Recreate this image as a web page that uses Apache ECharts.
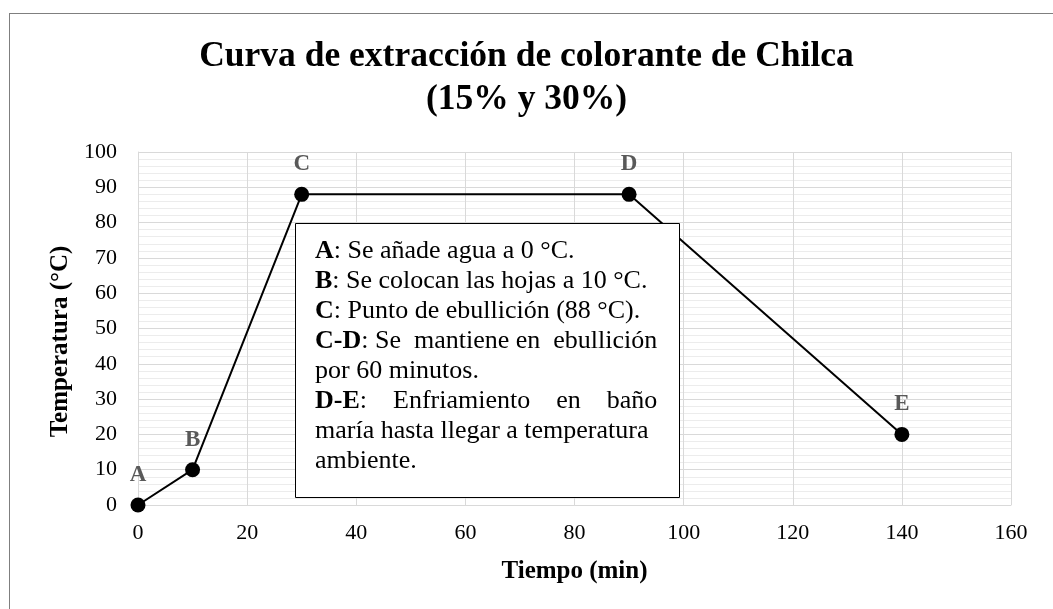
<!DOCTYPE html>
<html>
<head>
<meta charset="utf-8">
<title>Curva de extracción de colorante de Chilca</title>
<script src="https://cdn.jsdelivr.net/npm/echarts@6/dist/echarts.min.js"></script>
<style>
	html, body { margin: 0; padding: 0; background: #fff; }
	#chart { width: 1053px; height: 609px; position: relative; }
	#marco { position: absolute; left: 9px; top: 13px; right: -5px; bottom: -5px; border-left: 1px solid #7f7f7f; border-top: 1px solid #7f7f7f; pointer-events: none; z-index: 5; }
</style>
</head>
<body>
<div id="chart"></div>
<div id="marco"></div>
<script>
// datos de la curva
var tiempo = [0, 10, 30, 90, 140];
var temperatura = [0, 10, 88, 88, 20];
var etiquetas = ['A', 'B', 'C', 'D', 'E'];

var fuente = '"Liberation Serif", "Times New Roman", serif';

var puntos = [];
for (var i = 0; i < tiempo.length; i++) {
	puntos.push({ value: [tiempo[i], temperatura[i]], name: etiquetas[i] });
}

var nota = [
	'{b|A}: Se añade agua a 0 °C.',
	'{b|B}: Se colocan las hojas a 10 °C.',
	'{b|C}: Punto de ebullición (88 °C).',
	'{b|C-D}: Se  mantiene en  ebullición',
	'por 60 minutos.',
	'{b|D-E}:    Enfriamiento    en    baño',
	'maría hasta llegar a temperatura',
	'ambiente.'
].join('\n');

var myChart = echarts.init(document.getElementById('chart'));
myChart.setOption({
	animation: false,
	backgroundColor: '#fff',
	title: {
		text: 'Curva de extracción de colorante de Chilca\n(15% y 30%)',
		left: 'center',
		top: 30,
		textStyle: { fontFamily: fuente, fontSize: 35.5, fontWeight: 'bold', color: '#000', lineHeight: 43 }
	},
	grid: { left: 138, right: 42, top: 152, bottom: 104 },
	xAxis: {
		type: 'value',
		min: 0, max: 160, interval: 20,
		name: 'Tiempo (min)',
		nameLocation: 'middle',
		nameGap: 54,
		nameTextStyle: { fontFamily: fuente, fontSize: 25, fontWeight: 'bold', color: '#000' },
		axisLine: { lineStyle: { color: '#d9d9d9', width: 1 } },
		axisTick: { show: false },
		axisLabel: { fontFamily: fuente, fontSize: 22, color: '#000', margin: 17 },
		splitLine: { show: true, lineStyle: { color: '#d9d9d9', width: 1 } }
	},
	yAxis: {
		type: 'value',
		min: 0, max: 100, interval: 10,
		name: 'Temperatura (°C)',
		nameLocation: 'middle',
		nameRotate: 90,
		nameGap: 59,
		nameTextStyle: { fontFamily: fuente, fontSize: 25, fontWeight: 'bold', color: '#000', padding: [0, 26, 0, 0] },
		axisLine: { show: true, lineStyle: { color: '#d9d9d9', width: 1 } },
		axisTick: { show: false },
		axisLabel: { fontFamily: fuente, fontSize: 22, color: '#000', margin: 21 },
		splitLine: { show: true, lineStyle: { color: '#d9d9d9', width: 1 } },
		minorTick: { show: false, splitNumber: 5 },
		minorSplitLine: { show: true, lineStyle: { color: '#ececec', width: 1 } }
	},
	series: [{
		type: 'line',
		data: puntos,
		symbol: 'circle',
		symbolSize: 15,
		itemStyle: { color: '#000' },
		lineStyle: { color: '#000', width: 2 },
		label: {
			show: true,
			position: 'top',
			distance: 11,
			formatter: '{b}',
			fontFamily: fuente,
			fontSize: 23,
			fontWeight: 'bold',
			color: '#595959'
		}
	}],
	graphic: [{
		type: 'rect',
		shape: { x: 295.5, y: 223.5, width: 384, height: 274 },
		style: { fill: '#fff', stroke: '#000', lineWidth: 1 },
		z: 10
	}, {
		type: 'text',
		left: 315,
		top: 236,
		z: 11,
		style: {
			text: nota,
			fontFamily: fuente,
			fontSize: 26,
			lineHeight: 30,
			fill: '#000',
			rich: {
				b: { fontFamily: fuente, fontSize: 26, fontWeight: 'bold', lineHeight: 30, fill: '#000' }
			}
		}
	}]
});
</script>
</body>
</html>
